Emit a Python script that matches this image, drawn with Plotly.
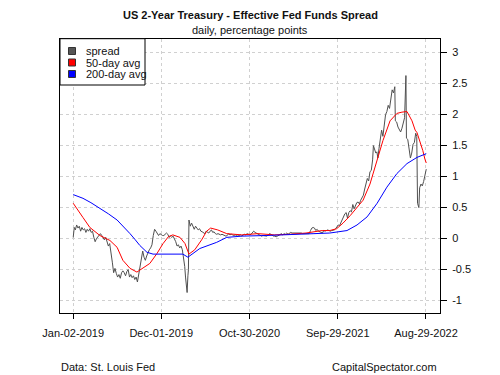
import plotly.graph_objects as go

# ---------------- data ----------------
spread_dates = [
    "2019-01-02","2019-01-06","2019-01-10","2019-01-15","2019-01-20","2019-01-25","2019-01-30",
    "2019-02-04","2019-02-09","2019-02-14","2019-02-19","2019-02-24","2019-03-01","2019-03-06",
    "2019-03-11","2019-03-16","2019-03-21","2019-03-26","2019-03-31","2019-04-05","2019-04-10",
    "2019-04-15","2019-04-20","2019-04-25","2019-04-30","2019-05-05","2019-05-10","2019-05-15",
    "2019-05-20","2019-05-25","2019-05-30","2019-06-04","2019-06-09","2019-06-14","2019-06-19",
    "2019-06-24","2019-06-29","2019-07-04","2019-07-09","2019-07-14","2019-07-19","2019-07-24",
    "2019-07-29","2019-08-03","2019-08-08","2019-08-13","2019-08-18","2019-08-23","2019-08-28",
    "2019-09-02","2019-09-07","2019-09-12","2019-09-17","2019-09-22","2019-09-27","2019-10-02",
    "2019-10-07","2019-10-12","2019-10-17","2019-10-22","2019-10-27","2019-11-01","2019-11-06",
    "2019-11-11","2019-11-16","2019-11-21","2019-11-26","2019-12-01","2019-12-06","2019-12-11",
    "2019-12-16","2019-12-21","2019-12-26","2019-12-31",
    "2020-01-05","2020-01-10","2020-01-15","2020-01-20","2020-01-25","2020-01-30","2020-02-04",
    "2020-02-09","2020-02-14","2020-02-19","2020-02-24","2020-02-28","2020-03-02","2020-03-05",
    "2020-03-08","2020-03-11","2020-03-13","2020-03-15","2020-03-20","2020-03-25","2020-03-30",
    "2020-04-04","2020-04-09","2020-04-14","2020-04-19","2020-04-24","2020-04-29","2020-05-04",
    "2020-05-09","2020-05-14","2020-05-19","2020-05-24","2020-05-29","2020-06-03","2020-06-08",
    "2020-06-13","2020-06-18","2020-06-23","2020-06-28","2020-07-03","2020-07-08","2020-07-13",
    "2020-07-18","2020-07-23","2020-07-28","2020-08-02","2020-08-07","2020-08-12","2020-08-17",
    "2020-08-22","2020-08-27","2020-09-01","2020-09-06","2020-09-11","2020-09-16","2020-09-21",
    "2020-09-26","2020-10-01","2020-10-06","2020-10-11","2020-10-16","2020-10-21","2020-10-26",
    "2020-10-31","2020-11-05","2020-11-10","2020-11-15","2020-11-20","2020-11-25","2020-11-30",
    "2020-12-05","2020-12-10","2020-12-15","2020-12-20","2020-12-25","2020-12-30",
    "2021-01-04","2021-01-09","2021-01-14","2021-01-19","2021-01-24","2021-01-29","2021-02-03",
    "2021-02-08","2021-02-13","2021-02-18","2021-02-23","2021-02-28","2021-03-05","2021-03-10",
    "2021-03-15","2021-03-20","2021-03-25","2021-03-30","2021-04-04","2021-04-09","2021-04-14",
    "2021-04-19","2021-04-24","2021-04-29","2021-05-04","2021-05-09","2021-05-14","2021-05-19",
    "2021-05-24","2021-05-29","2021-06-03","2021-06-08","2021-06-13","2021-06-18","2021-06-23",
    "2021-06-28","2021-07-03","2021-07-08","2021-07-13","2021-07-18","2021-07-23","2021-07-28",
    "2021-08-02","2021-08-07","2021-08-12","2021-08-17","2021-08-22","2021-08-27","2021-09-01",
    "2021-09-06","2021-09-11","2021-09-16","2021-09-21","2021-09-26","2021-10-01","2021-10-06",
    "2021-10-11","2021-10-16","2021-10-21","2021-10-26","2021-10-31","2021-11-05","2021-11-10",
    "2021-11-15","2021-11-20","2021-11-25","2021-11-30","2021-12-05","2021-12-10","2021-12-15",
    "2021-12-20","2021-12-25","2021-12-30",
    "2022-01-04","2022-01-09","2022-01-14","2022-01-19","2022-01-24","2022-01-29","2022-02-03",
    "2022-02-08","2022-02-11","2022-02-15","2022-02-20","2022-02-24","2022-02-28","2022-03-04",
    "2022-03-09","2022-03-14","2022-03-19","2022-03-24","2022-03-29","2022-04-03","2022-04-08",
    "2022-04-13","2022-04-18","2022-04-23","2022-04-28","2022-05-03","2022-05-05","2022-05-10",
    "2022-05-15","2022-05-20","2022-05-25","2022-05-30","2022-06-04","2022-06-09","2022-06-14",
    "2022-06-16","2022-06-21","2022-06-26","2022-07-01","2022-07-06","2022-07-11","2022-07-16",
    "2022-07-21","2022-07-25","2022-07-28","2022-08-02","2022-08-05","2022-08-10","2022-08-15",
    "2022-08-20","2022-08-25","2022-08-30",
]
spread_values = [
    0.02,0.18,0.14,0.22,0.17,0.20,0.12,
    0.18,0.14,0.16,0.10,0.15,0.12,0.16,
    0.10,0.12,0.02,-0.05,0.00,0.03,0.06,
    0.08,0.05,0.00,-0.02,0.02,-0.05,-0.12,
    -0.08,-0.20,-0.38,-0.55,-0.48,-0.56,-0.62,
    -0.58,-0.64,-0.55,-0.52,-0.55,-0.60,-0.53,
    -0.50,-0.62,-0.58,-0.63,-0.60,-0.66,-0.62,
    -0.70,-0.58,-0.45,-0.38,-0.20,-0.30,-0.35,
    -0.28,-0.22,-0.18,-0.15,-0.10,0.05,0.15,
    0.12,0.07,0.05,0.08,0.06,0.05,0.05,
    0.08,0.09,0.07,0.02,
    0.04,0.02,0.04,0.00,-0.05,-0.12,-0.10,
    -0.15,-0.12,-0.18,-0.30,-0.45,-0.62,-0.80,
    -0.87,-0.60,-0.50,0.30,0.20,0.25,0.18,
    0.15,0.20,0.17,0.14,0.16,0.12,0.11,
    0.10,0.08,0.12,0.10,0.09,0.12,0.14,
    0.10,0.11,0.08,0.07,0.08,0.07,0.06,
    0.07,0.06,0.04,0.04,0.05,0.08,0.06,
    0.07,0.06,0.05,0.06,0.05,0.06,0.05,
    0.06,0.04,0.06,0.07,0.06,0.08,0.07,
    0.06,0.07,0.09,0.12,0.10,0.09,0.08,
    0.07,0.05,0.04,0.05,0.05,0.04,
    0.04,0.06,0.08,0.07,0.05,0.04,0.04,
    0.03,0.04,0.05,0.06,0.08,0.06,0.08,
    0.07,0.09,0.07,0.09,0.10,0.09,0.09,
    0.09,0.10,0.09,0.09,0.09,0.09,0.08,
    0.08,0.08,0.08,0.08,0.08,0.13,0.17,
    0.18,0.17,0.13,0.15,0.12,0.11,0.11,
    0.09,0.13,0.12,0.13,0.14,0.13,0.12,
    0.13,0.13,0.14,0.16,0.20,0.22,0.21,
    0.26,0.32,0.36,0.40,0.42,0.33,0.42,
    0.45,0.43,0.55,0.48,0.54,0.58,0.59,
    0.56,0.62,0.65,
    0.70,0.80,0.88,0.97,0.93,1.08,1.10,
    1.27,1.50,1.45,1.38,1.40,1.30,1.45,
    1.60,1.75,1.65,1.85,2.00,2.05,2.15,
    2.10,2.30,2.40,2.35,2.45,1.90,1.88,
    1.80,1.75,1.72,1.78,1.85,1.95,2.63,
    1.62,1.60,1.45,1.30,1.38,1.52,1.55,
    1.70,1.65,0.57,0.50,0.82,0.88,0.85,
    0.92,1.05,1.12,
]

avg50_dates = [
    "2019-01-02","2019-01-20","2019-02-08","2019-03-06","2019-04-13","2019-05-21","2019-06-17",
    "2019-07-09","2019-08-05","2019-08-31","2019-09-23","2019-10-19","2019-11-15","2019-12-08",
    "2019-12-28","2020-01-14","2020-02-10","2020-02-29","2020-03-15","2020-04-06","2020-05-02",
    "2020-05-21","2020-06-05","2020-07-02","2020-08-05","2020-10-01","2020-12-01","2021-02-01",
    "2021-04-01","2021-06-01","2021-08-01","2021-08-30","2021-09-25","2021-10-19","2021-11-15",
    "2021-12-11","2022-01-03","2022-01-29","2022-02-25","2022-03-19","2022-04-15","2022-05-11",
    "2022-05-30","2022-06-18","2022-07-07","2022-07-19","2022-07-26","2022-08-06","2022-08-17",
    "2022-08-25","2022-08-30",
]
avg50_values = [
    0.57,0.45,0.34,0.18,0.05,-0.03,-0.14,
    -0.35,-0.48,-0.54,-0.48,-0.40,-0.24,-0.08,
    0.03,0.06,0.02,-0.08,-0.25,-0.18,-0.02,
    0.12,0.17,0.14,0.08,0.06,0.08,0.06,
    0.07,0.09,0.13,0.13,0.16,0.25,0.37,
    0.50,0.62,0.88,1.26,1.58,1.90,2.02,
    2.04,2.05,1.90,1.75,1.71,1.58,1.42,
    1.28,1.22,
]

avg200_dates = [
    "2019-01-02","2019-02-08","2019-03-10","2019-04-13","2019-05-15","2019-06-17","2019-07-15",
    "2019-08-05","2019-08-25","2019-09-11","2019-10-08","2019-10-31","2020-02-21","2020-03-11",
    "2020-04-25","2020-06-28","2020-08-05","2020-10-01","2021-01-01","2021-04-01","2021-07-01",
    "2021-08-30","2021-11-03","2021-12-11","2022-01-18","2022-02-25","2022-04-03","2022-05-11",
    "2022-06-18","2022-07-26","2022-08-30",
]
avg200_values = [
    0.71,0.65,0.58,0.49,0.40,0.30,0.18,
    0.08,-0.02,-0.11,-0.22,-0.25,-0.25,-0.30,
    -0.16,-0.06,0.02,0.04,0.05,0.06,0.08,
    0.09,0.13,0.22,0.35,0.57,0.83,1.05,
    1.21,1.31,1.37,
]

tick_dates = ["2019-01-02", "2019-12-01", "2020-10-30", "2021-09-29", "2022-08-29"]
tick_labels = ["Jan-02-2019", "Dec-01-2019", "Oct-30-2020", "Sep-29-2021", "Aug-29-2022"]
y_ticks = [-1, -0.5, 0, 0.5, 1, 1.5, 2, 2.5, 3]

legend_names = ["spread", "50-day avg", "200-day avg"]
legend_colors = ["#555555", "#ff0000", "#0000ff"]

# ---------------- figure ----------------
FONT = "Liberation Sans, Arial, sans-serif"
fig = go.Figure()
fig.add_trace(go.Scatter(x=spread_dates, y=spread_values, mode="lines",
                         line=dict(color="#505050", width=1), name=legend_names[0]))
fig.add_trace(go.Scatter(x=avg50_dates, y=avg50_values, mode="lines",
                         line=dict(color="#ff0000", width=1), name=legend_names[1]))
fig.add_trace(go.Scatter(x=avg200_dates, y=avg200_values, mode="lines",
                         line=dict(color="#0000ff", width=1), name=legend_names[2]))

W, H = 500, 375
ML, MR, MT, MB = 60, 60, 39, 62
PW, PH = W - ML - MR, H - MT - MB

def px(x):
    return (x - ML) / PW

def py(y):
    return 1 - (y - MT) / PH

fig.update_layout(
    width=W, height=H,
    margin=dict(l=ML, r=MR, t=MT, b=MB, pad=0),
    paper_bgcolor="white", plot_bgcolor="white",
    showlegend=False,
    font=dict(family=FONT, size=11, color="#111111"),
    xaxis=dict(
        type="date", range=["2018-11-13", "2022-10-21"],
        tickvals=tick_dates, ticktext=tick_labels,
        ticks="outside", ticklen=5, tickcolor="#000", tickwidth=1,
        ticklabelstandoff=5,
        showline=True, linecolor="#000", linewidth=1, mirror=True,
        showgrid=True, gridcolor="#d0d0d0", griddash="dot", gridwidth=1,
        zeroline=False, tickfont=dict(size=11),
    ),
    yaxis=dict(
        side="right", range=[-1.2, 3.22],
        tickvals=y_ticks, ticktext=[f"{v:g}" for v in y_ticks],
        ticks="outside", ticklen=6, tickcolor="#000", tickwidth=1,
        ticklabelstandoff=3,
        showline=True, linecolor="#000", linewidth=1, mirror=True,
        showgrid=True, gridcolor="#d0d0d0", griddash="dot", gridwidth=1,
        zeroline=False, tickfont=dict(size=11),
    ),
)

# titles
fig.add_annotation(text="<b>US 2-Year Treasury - Effective Fed Funds Spread</b>",
                   xref="paper", yref="paper", x=0.5, y=py(15.5), xanchor="center",
                   yanchor="middle", showarrow=False, font=dict(size=11))
fig.add_annotation(text="daily, percentage points",
                   xref="paper", yref="paper", x=0.5, y=py(30.5), xanchor="center",
                   yanchor="middle", showarrow=False, font=dict(size=11))
# footer
fig.add_annotation(text="Data: St. Louis Fed", xref="paper", yref="paper",
                   x=px(59), y=py(367), xanchor="left", yanchor="middle",
                   showarrow=False, font=dict(size=11))
fig.add_annotation(text="CapitalSpectator.com", xref="paper", yref="paper",
                   x=px(439), y=py(367), xanchor="right", yanchor="middle",
                   showarrow=False, font=dict(size=11))

# custom legend (box with filled squares)
fig.add_shape(type="rect", xref="paper", yref="paper",
              x0=px(60), x1=px(145), y0=py(85), y1=py(38.7),
              line=dict(color="#000", width=1), fillcolor="white", layer="above")
for i, (name, col) in enumerate(zip(legend_names, legend_colors)):
    yc = 51 + i * 11.5
    fig.add_shape(type="rect", xref="paper", yref="paper",
                  x0=px(68.5), x1=px(75.5), y0=py(yc + 3.5), y1=py(yc - 3.5),
                  line=dict(color="#333", width=1), fillcolor=col, layer="above")
    fig.add_annotation(text=name, xref="paper", yref="paper", x=px(84), y=py(yc),
                       xanchor="left", yanchor="middle", showarrow=False,
                       font=dict(size=11))

fig.write_html("out.html", config={"displayModeBar": False},
               post_script="document.body.style.margin='0px';document.body.style.padding='0px';")
